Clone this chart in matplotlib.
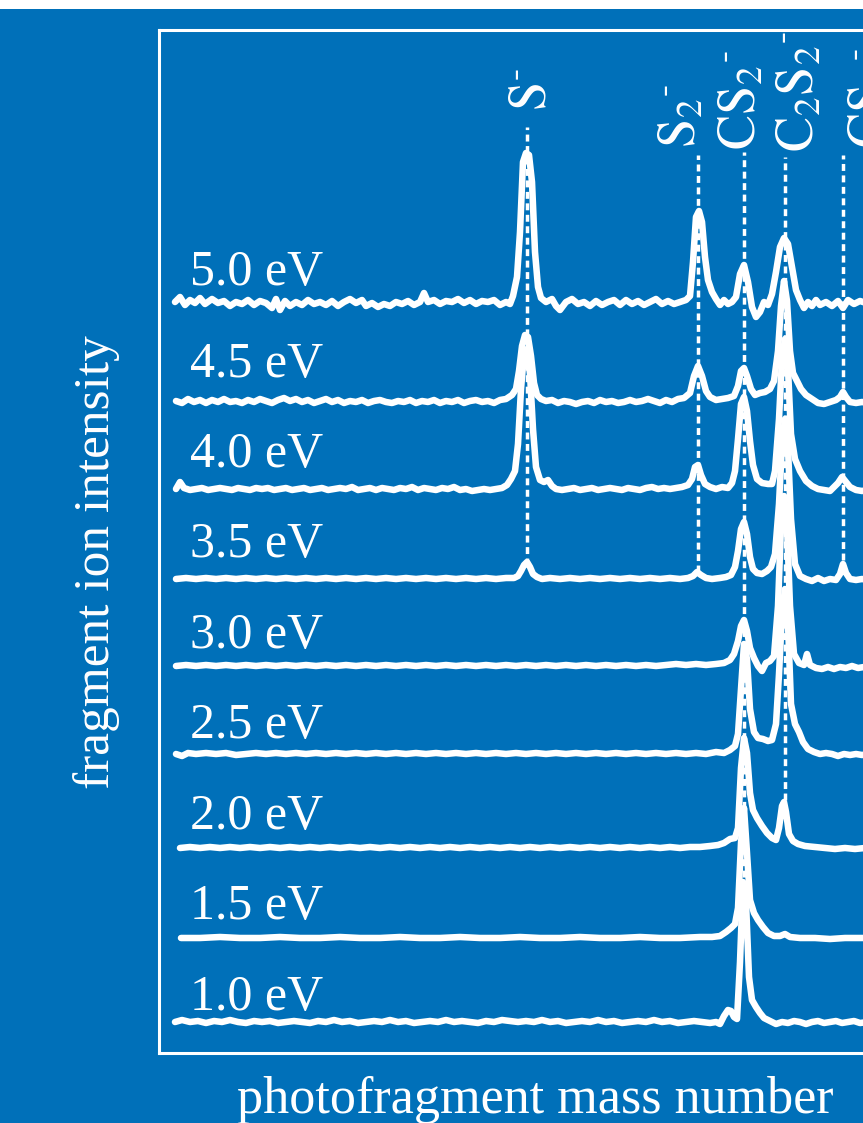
import matplotlib
matplotlib.use('Agg')
import matplotlib.pyplot as plt
from matplotlib.patches import Rectangle

plt.rcParams['font.family'] = ['Liberation Serif', 'DejaVu Serif']
plt.rcParams['mathtext.fontset'] = 'stix'

# ---------------- data ----------------
# photon energies of the spectra (top to bottom)
energies = ["5.0 eV", "4.5 eV", "4.0 eV", "3.5 eV", "3.0 eV", "2.5 eV", "2.0 eV", "1.5 eV", "1.0 eV"]
# vertical offset (baseline) of every spectrum
baselines = [751, 652, 564, 474, 387, 299, 205, 115, 31]

# fragment assignments: label, flight position, dashed-line extent (low, high)
frag_labels = [r"$\mathrm{S}^{\text{-}}$", r"$\mathrm{S}_2{}^{\text{-}}$", r"$\mathrm{CS}_2{}^{\text{-}}$",
               r"$\mathrm{C}_2\mathrm{S}_2{}^{\text{-}}$", r"$\mathrm{CS}_3{}^{\text{-}}$"]
frag_pos = [527, 698, 744, 785, 843]
frag_line_low = [488, 481, 153, 253, 493]
frag_line_high = [926, 898, 901, 896, 898]

# spectra: (flight position, intensity above baseline)
trace_50 = [(175,0),(180,5),(185,-3),(190,2),(195,-1),(200,4),(205,-2),(212,3),(218,-1),(224,1),
            (230,-4),(236,0),(242,-2),(248,2),(254,-3),(260,1),(266,-1),(272,-6),(276,3),(280,-8),
            (285,1),(290,-4),(296,0),(302,-3),(308,2),(314,-2),(320,0),(326,-3),(332,1),(338,-4),
            (344,0),(350,3),(356,-1),(362,2),(366,-4),(372,-1),(378,-5),(384,-2),(390,-4),(396,0),
            (402,-2),(408,1),(414,-3),(420,0),(424,9),(428,0),(434,2),(440,-2),(446,1),(452,0),
            (458,3),(464,-1),(470,2),(476,-2),(482,1),(488,0),(494,2),(500,-3),(506,0),(510,-2),
            (513,6),(517,25),(520,70),(523,140),(526,149),(529,147),(532,120),(535,50),(538,15),(541,4),
            (546,0),(552,3),(556,-4),(560,-8),(566,0),(572,3),(578,-2),(584,0),(590,-4),(596,1),
            (602,-3),(608,0),(614,2),(620,-3),(626,2),(632,-2),(638,1),(644,-3),(650,0),(656,3),
            (662,-2),(668,1),(674,-2),(680,0),(686,2),(690,6),(693,40),(696,85),(699,91),(702,80),
            (705,45),(708,22),(712,10),(716,3),(720,-3),(724,2),(728,-2),(732,0),(736,5),(740,28),
            (744,37),(748,20),(752,-5),(756,-15),(760,-10),(764,0),(768,-3),(772,8),(776,30),(780,55),
            (784,64),(788,58),(792,35),(796,12),(800,2),(804,-6),(808,0),(812,-4),(816,2),(820,-3),
            (826,0),(832,-4),(838,1),(843,-6),(848,2),(854,-2),(860,1),(866,-1),(872,0)]

trace_45 = [(176,0),(182,-2),(188,2),(194,-1),(200,1),(206,-2),(212,1),(218,-1),(224,2),(230,-1),
            (236,0),(242,-2),(248,1),(254,-1),(260,2),(266,0),(272,-2),(278,1),(284,3),(290,0),
            (296,2),(302,-1),(308,1),(314,-2),(320,0),(326,2),(332,-1),(338,1),(344,-2),(350,0),
            (356,-1),(362,1),(368,-2),(374,0),(380,1),(386,-1),(392,-2),(398,0),(404,-1),(410,1),
            (416,-2),(422,0),(428,-1),(434,1),(440,-2),(446,0),(452,-1),(458,1),(464,-2),(470,0),
            (476,1),(482,-1),(488,0),(494,-2),(500,1),(506,2),(512,6),(516,12),(519,30),(522,55),
            (525,66),(528,64),(531,45),(534,18),(537,6),(541,2),(546,0),(552,1),(558,-2),(564,0),
            (570,-1),(576,-3),(582,-1),(588,0),(594,-2),(600,1),(606,-1),(612,0),(618,-2),(624,-1),
            (630,1),(636,-1),(642,0),(648,2),(654,0),(660,-2),(666,1),(672,-1),(678,2),(684,3),
            (690,8),(694,25),(698,35),(702,25),(706,10),(710,4),(716,1),(722,2),(728,3),(734,5),
            (738,15),(741,30),(744,33),(747,25),(751,12),(755,6),(760,8),(765,9),(770,12),(774,20),
            (778,50),(781,95),(784,120),(787,100),(790,50),(793,28),(797,20),(801,12),(806,6),(812,2),
            (818,-2),(824,-3),(830,-1),(836,1),(840,4),(843,9),(846,4),(850,-1),(856,-2),(862,-1),
            (868,-2),(874,0)]

trace_40 = [(176,0),(180,7),(184,1),(190,-1),(196,0),(202,1),(208,-1),(214,0),(220,1),(226,0),
            (232,-1),(238,1),(244,0),(250,-1),(256,1),(262,0),(268,1),(274,-1),(280,0),(286,1),
            (292,-1),(298,0),(304,1),(310,-1),(316,0),(322,1),(328,-1),(334,0),(340,1),(346,0),
            (352,2),(358,-1),(364,0),(370,1),(376,-1),(382,1),(388,0),(394,-1),(400,1),(406,0),
            (412,2),(418,-1),(424,1),(430,0),(436,-1),(442,1),(448,0),(454,2),(460,-1),(466,0),
            (472,-2),(478,-1),(484,0),(490,-1),(496,0),(502,1),(507,4),(511,10),(515,18),(518,45),
            (521,100),(524,135),(527,140),(530,115),(533,60),(536,22),(540,9),(544,7),(548,9),(552,3),
            (556,0),(562,-1),(568,0),(574,1),(580,-1),(586,0),(592,1),(598,-1),(604,0),(610,1),
            (616,0),(622,-1),(628,1),(634,0),(640,-1),(646,1),(652,2),(658,0),(664,1),(670,0),
            (676,1),(682,2),(688,4),(692,10),(695,22),(698,24),(701,14),(705,5),(710,2),(716,0),
            (722,2),(728,1),(732,6),(735,18),(738,50),(741,85),(744,92),(747,78),(750,48),(753,24),
            (757,10),(762,6),(768,5),(772,5),(775,18),(779,70),(782,130),(785,150),(788,120),(791,55),
            (795,30),(800,18),(806,8),(812,3),(818,0),(824,-1),(830,-2),(834,2),(838,6),(842,12),
            (846,7),(850,2),(856,-1),(862,-2),(868,-1),(874,0)]

trace_35 = [(176,0),(186,1),(196,0),(206,1),(216,0),(226,1),(236,0),(246,1),(256,0),(266,1),
            (276,0),(286,1),(296,0),(306,1),(316,0),(326,1),(336,0),(346,1),(356,0),(366,1),
            (376,0),(386,1),(396,0),(406,1),(416,0),(426,1),(436,0),(446,1),(456,0),(466,1),
            (476,0),(486,1),(496,0),(506,1),(514,1),(518,3),(521,8),(524,14),(527,17),(530,12),
            (533,5),(537,2),(542,0),(550,1),(560,0),(570,1),(580,0),(590,1),(600,0),(610,1),
            (620,0),(630,1),(640,0),(650,1),(660,0),(670,1),(680,0),(688,1),(693,3),(697,7),
            (701,4),(706,1),(712,0),(720,1),(726,2),(731,4),(735,12),(738,28),(741,50),(744,57),
            (747,45),(750,22),(753,10),(757,6),(762,5),(767,8),(771,12),(775,25),(779,75),(782,135),
            (785,160),(788,130),(791,60),(795,15),(800,3),(806,0),(812,-2),(818,1),(824,-2),(830,0),
            (836,-1),(840,5),(843,15),(846,6),(850,0),(856,-1),(862,0),(868,-1),(874,0)]

trace_30 = [(176,0),(186,1),(196,0),(206,1),(216,0),(226,1),(236,0),(246,1),(256,0),(266,1),
            (276,0),(286,1),(296,0),(306,1),(316,0),(326,1),(336,0),(346,1),(356,0),(366,1),
            (376,0),(386,1),(396,0),(406,1),(416,0),(426,1),(436,0),(446,1),(456,0),(466,1),
            (476,0),(486,1),(496,0),(506,1),(516,0),(526,1),(536,0),(546,1),(556,0),(566,1),
            (576,0),(586,1),(596,0),(606,1),(616,0),(626,1),(636,0),(646,1),(656,0),(666,1),
            (676,2),(686,1),(696,2),(706,1),(716,2),(724,3),(730,6),(734,12),(738,25),(741,40),
            (744,46),(747,35),(750,18),(754,8),(758,0),(762,-5),(766,3),(770,5),(774,10),(778,60),
            (781,140),(784,170),(787,140),(790,60),(794,12),(799,3),(804,1),(807,12),(810,1),(816,-2),
            (822,-3),(828,-1),(834,-3),(840,-1),(846,-2),(852,0),(858,-2),(864,-1),(870,0)]

trace_25 = [(176,0),(182,-2),(188,1),(196,0),(206,1),(216,0),(226,1),(236,-1),(246,0),(256,1),
            (266,0),(276,1),(286,0),(296,1),(306,0),(316,1),(326,0),(336,1),(346,0),(356,1),
            (366,0),(376,1),(386,0),(396,1),(406,0),(416,1),(426,0),(436,1),(446,0),(456,1),
            (466,0),(476,1),(486,0),(496,1),(506,0),(516,1),(526,0),(536,1),(546,0),(556,1),
            (566,0),(576,1),(586,0),(596,1),(606,0),(616,1),(626,0),(636,1),(646,0),(656,1),
            (666,0),(676,1),(686,0),(696,1),(706,0),(716,2),(724,1),(730,4),(735,8),(738,20),
            (741,65),(744,110),(747,95),(750,45),(754,22),(758,16),(763,15),(768,13),(772,14),(776,30),
            (779,80),(782,140),(785,165),(788,130),(791,50),(795,30),(799,22),(803,12),(808,5),(814,2),
            (820,0),(826,1),(832,0),(838,-2),(844,0),(850,-1),(856,0),(862,-1),(870,0)]

trace_20 = [(180,0),(190,1),(200,0),(210,1),(220,0),(230,1),(240,0),(250,1),(260,0),(270,1),
            (280,0),(290,1),(300,0),(310,1),(320,0),(330,1),(340,0),(350,1),(360,0),(370,1),
            (380,0),(390,1),(400,0),(410,1),(420,0),(430,1),(440,0),(450,1),(460,0),(470,1),
            (480,0),(490,1),(500,0),(510,1),(520,0),(530,1),(540,0),(550,1),(560,0),(570,1),
            (580,0),(590,1),(600,0),(610,1),(620,0),(630,1),(640,0),(650,1),(660,0),(670,1),
            (680,0),(690,1),(700,1),(710,2),(718,3),(724,5),(730,9),(735,10),(738,20),(741,80),
            (744,110),(747,95),(750,55),(753,38),(757,30),(762,22),(767,15),(772,10),(776,8),(779,20),
            (782,42),(784,46),(786,36),(789,14),(793,7),(798,4),(805,2),(815,1),(825,0),(835,-1),
            (845,0),(855,-1),(865,0),(875,0)]

trace_15 = [(181,0),(200,0),(220,1),(240,0),(260,0),(280,1),(300,0),(320,0),(340,1),(360,0),
            (380,0),(400,1),(420,0),(440,0),(460,1),(480,0),(500,0),(520,1),(540,0),(560,0),
            (580,1),(600,0),(620,0),(640,1),(660,0),(680,0),(700,1),(712,1),(720,2),(726,6),
            (731,10),(735,14),(738,30),(741,95),(744,130),(747,85),(750,38),(754,25),(758,18),(763,11),
            (768,5),(774,2),(780,2),(785,4),(790,1),(800,0),(815,0),(830,-1),(845,0),(860,0),(875,0)]

trace_10 = [(175,0),(182,2),(190,0),(198,1),(206,-1),(214,1),(222,0),(230,2),(238,0),(246,-1),
            (254,1),(262,0),(270,1),(278,-1),(286,0),(294,1),(302,0),(310,-1),(318,1),(326,0),
            (334,2),(342,0),(350,1),(358,-1),(366,0),(374,1),(382,0),(390,2),(398,0),(406,1),
            (414,-1),(422,0),(430,1),(438,0),(446,2),(454,0),(462,1),(470,0),(478,-1),(486,1),
            (494,0),(502,2),(510,1),(518,0),(526,1),(534,0),(542,2),(550,0),(558,1),(566,-1),
            (574,0),(582,1),(590,0),(598,2),(606,0),(614,1),(622,-1),(630,0),(638,1),(646,0),
            (654,2),(662,0),(670,1),(678,-1),(686,0),(694,1),(702,0),(710,-1),(716,0),(720,-2),
            (724,6),(728,12),(731,11),(734,5),(737,3),(740,60),(743,140),(746,120),(749,45),(752,22),
            (756,15),(760,9),(764,4),(770,1),(776,-2),(782,0),(788,-1),(794,1),(800,0),(806,-2),
            (812,0),(818,1),(824,-1),(830,0),(836,1),(842,-1),(848,0),(854,1),(860,-1),(868,0)]

traces = [trace_50, trace_45, trace_40, trace_35, trace_30, trace_25, trace_20, trace_15, trace_10]

# ---------------- layout / style ----------------
BLUE = '#0070b9'
W, H = 863, 1123
fig = plt.figure(figsize=(W / 100, H / 100), dpi=100, facecolor=BLUE)

# thin white strip at the very top of the image
fig.patches.append(Rectangle((0, 1 - 9 / H), 1, 9 / H, transform=fig.transFigure,
                             facecolor='white', edgecolor='none'))

left_px, right_px, top_px, bottom_px = 159, 1000, 30, 1053
ax = fig.add_axes([left_px / W, 1 - bottom_px / H, (right_px - left_px) / W, (bottom_px - top_px) / H])
ax.set_facecolor(BLUE)
ax.set_xlim(159, 1000)
ax.set_ylim(0, 1023)
ax.set_xticks([])
ax.set_yticks([])
for sp in ax.spines.values():
    sp.set_color('white')
    sp.set_linewidth(2.2)

# dashed assignment lines
for xp, lo, hi in zip(frag_pos, frag_line_low, frag_line_high):
    ax.plot([xp, xp], [lo, hi], color='white', lw=2.5, linestyle=(0, (2.0, 1.3)), zorder=2)

# spectra
for tr, base in zip(traces, baselines):
    xs = [p[0] for p in tr]
    ys = [base + p[1] for p in tr]
    ax.plot(xs, ys, color='white', lw=4.7, solid_joinstyle='round', solid_capstyle='round', zorder=3)

# energy labels (baseline pixel rows of the text)
label_rows = [285, 377, 467, 557, 648, 738, 829, 919, 1010]
for txt, row in zip(energies, label_rows):
    fig.text(190 / W, 1 - row / H, txt, color='white', fontsize=36, ha='left', va='baseline')

# fragment labels
frag_text_x = [532, 683, 743, 801, 872]
frag_text_bottom = [111, 148, 150, 152, 148]
for lab, tx, tb in zip(frag_labels, frag_text_x, frag_text_bottom):
    fig.text(tx / W, 1 - tb / H, lab, color='white', fontsize=38, rotation=90,
             ha='center', va='bottom')

# axis titles
fig.text(237 / W, 1 - 1113 / H, "photofragment mass number", color='white', fontsize=37.5,
         ha='left', va='baseline')
fig.text(97 / W, 1 - 562 / H, "fragment ion intensity", color='white', fontsize=37,
         rotation=90, ha='center', va='center')

fig.savefig('out.png', dpi=100, facecolor=BLUE)
